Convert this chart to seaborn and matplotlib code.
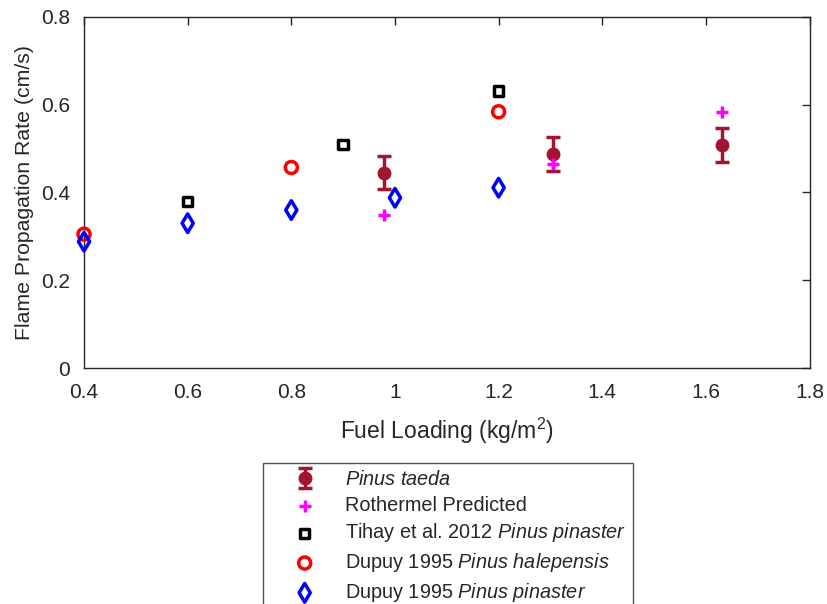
import matplotlib
matplotlib.use("Agg")
import matplotlib.pyplot as plt
import seaborn as sns

# Measured spread for Pinus taeda
taeda_load = [0.979, 1.305, 1.631]
taeda_rate = [0.445, 0.487, 0.509]
taeda_err = [0.038, 0.039, 0.039]

# Rothermel model prediction
roth_load = [0.979, 1.305, 1.631]
roth_rate = [0.349, 0.465, 0.583]

# Tihay et al. 2012, Pinus pinaster
tihay_load = [0.6, 0.9, 1.2]
tihay_rate = [0.379, 0.509, 0.631]

# Dupuy 1995, Pinus halepensis
dhal_load = [0.4, 0.8, 1.2]
dhal_rate = [0.305, 0.457, 0.584]

# Dupuy 1995, Pinus pinaster
dpin_load = [0.4, 0.6, 0.8, 1.0, 1.2]
dpin_rate = [0.288, 0.330, 0.360, 0.388, 0.411]

x_ticks = [0.4, 0.6, 0.8, 1.0, 1.2, 1.4, 1.6, 1.8]
x_tick_labels = ["0.4", "0.6", "0.8", "1", "1.2", "1.4", "1.6", "1.8"]
y_ticks = [0, 0.2, 0.4, 0.6, 0.8]
y_tick_labels = ["0", "0.2", "0.4", "0.6", "0.8"]

sns.set_style("white")
plt.rcParams["font.family"] = ["Liberation Sans", "DejaVu Sans"]
plt.rcParams["mathtext.fontset"] = "custom"
plt.rcParams["mathtext.rm"] = "Liberation Sans"
plt.rcParams["mathtext.it"] = "Liberation Sans:italic"

ink = "#262626"
fig = plt.figure(figsize=(8.27, 6.04), dpi=100)
ax = fig.add_axes([0.1016, 0.3907, 0.8773, 0.5812])

maroon = "#a2142f"
taeda_label = r"$\it{Pinus\ taeda}$"
ax.errorbar(taeda_load, taeda_rate, yerr=taeda_err, fmt="o", color=maroon,
            markersize=9, elinewidth=2.5, capsize=5, capthick=2.5,
            label=taeda_label, zorder=3)

sns.scatterplot(x=roth_load, y=roth_rate, ax=ax, marker="+", color="#ff00ff",
                s=80, linewidth=2.5, label="Rothermel Predicted", zorder=4,
                clip_on=False)
sns.scatterplot(x=tihay_load, y=tihay_rate, ax=ax, marker="s", facecolor="none",
                edgecolor="black", s=45, linewidth=2.5,
                label=r"Tihay et al. 2012 $\it{Pinus\ pinaster}$", zorder=4,
                clip_on=False)
sns.scatterplot(x=dhal_load, y=dhal_rate, ax=ax, marker="o", facecolor="none",
                edgecolor="#ff0000", s=75, linewidth=2.5,
                label=r"Dupuy 1995 $\it{Pinus\ halepensis}$", zorder=4,
                clip_on=False)
sns.scatterplot(x=dpin_load, y=dpin_rate, ax=ax, marker="d", facecolor="none",
                edgecolor="#0000ff", s=90, linewidth=2.5,
                label=r"Dupuy 1995 $\it{Pinus\ pinaster}$", zorder=4,
                clip_on=False)

ax.set_xlim(0.4, 1.8)
ax.set_ylim(0, 0.8)
ax.set_xticks(x_ticks)
ax.set_xticklabels(x_tick_labels)
ax.set_yticks(y_ticks)
ax.set_yticklabels(y_tick_labels)
ax.tick_params(direction="in", length=6, width=1, colors=ink,
               labelsize=15, top=True, right=True)
ax.tick_params(axis="x", pad=11)
ax.tick_params(axis="y", pad=10)
for sp in ax.spines.values():
    sp.set_color(ink)
    sp.set_linewidth(1)

ax.set_xlabel(r"Fuel Loading (kg/m$^2$)", fontsize=16.5, color=ink, labelpad=10)
ax.set_ylabel("Flame Propagation Rate (cm/s)", fontsize=15.3, color=ink, labelpad=5)

handles, labels = ax.get_legend_handles_labels()
order = [labels.index(taeda_label)] + \
        [i for i, l in enumerate(labels) if l != taeda_label]
leg = ax.legend([handles[i] for i in order], [labels[i] for i in order],
                loc="upper left", bbox_to_anchor=(0.318, 0.2334),
                bbox_transform=fig.transFigure, fontsize=14.3, frameon=True,
                fancybox=False, edgecolor=ink, borderaxespad=0,
                handletextpad=0.3, labelspacing=0.34, borderpad=0.35,
                handlelength=3.5)
leg.get_frame().set_linewidth(1)

fig.savefig("out.png", dpi=100)
